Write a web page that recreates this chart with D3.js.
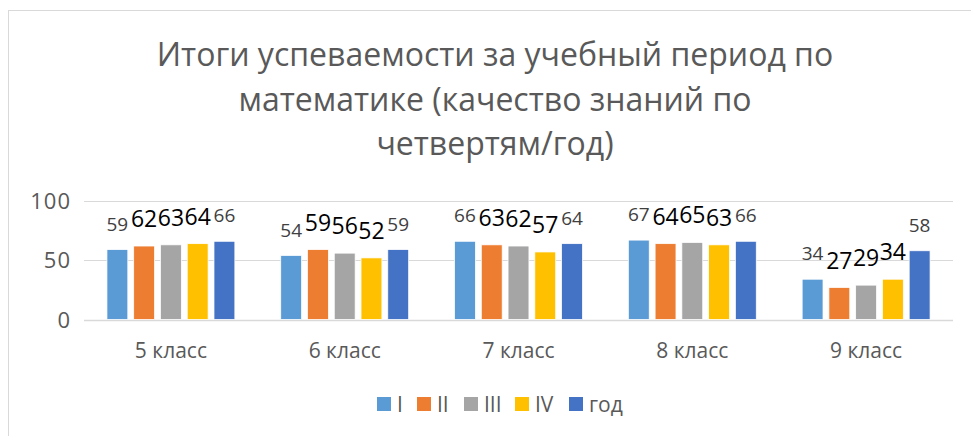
<!DOCTYPE html>
<html><head><meta charset="utf-8">
<script src="https://cdn.jsdelivr.net/npm/d3@7"></script>
<style>
html,body{margin:0;padding:0;background:#fff;}
svg{display:block;font-family:"Open Sans",sans-serif;}
</style></head>
<body>
<svg id="c" width="971" height="436"></svg>
<script>
const titleLines = ["Итоги успеваемости за учебный период по", "математике (качество знаний по", "четвертям/год)"];
const categories = ["5 класс", "6 класс", "7 класс", "8 класс", "9 класс"];
const seriesNames = ["I", "II", "III", "IV", "год"];
const seriesColors = ["#5B9BD5", "#ED7D31", "#A5A5A5", "#FFC000", "#4472C4"];
const valuesI   = [59, 54, 66, 67, 34];
const valuesII  = [62, 59, 63, 64, 27];
const valuesIII = [63, 56, 62, 65, 29];
const valuesIV  = [64, 52, 57, 63, 34];
const valuesYear = [66, 59, 64, 66, 58];
const yTicks = [0, 50, 100];

const seriesValues = [valuesI, valuesII, valuesIII, valuesIV, valuesYear];
const svg = d3.select("#c");

// chart border
svg.append("rect").attr("x", 8.5).attr("y", 10.5).attr("width", 1000).attr("height", 1000)
  .attr("fill", "none").attr("stroke", "#D9D9D9").attr("stroke-width", 1);

// title
svg.append("g").selectAll("text").data(titleLines).join("text")
  .attr("x", 495).attr("y", (d, i) => 66 + i * 44.5)
  .attr("text-anchor", "middle").attr("font-size", 32).attr("fill", "#595959")
  .text(d => d);

const x0 = d3.scaleBand().domain(categories).range([84, 953]);
const bw = x0.bandwidth();
const gap = bw * 0.132;
const x1 = d3.scaleBand().domain(seriesNames).range([gap, bw - gap]).paddingInner(0.22);
const y = d3.scaleLinear().domain([0, 100]).range([319.5, 201]);

// gridlines
svg.append("g").selectAll("line").data(yTicks).join("line")
  .attr("x1", 84).attr("x2", 953)
  .attr("y1", d => Math.round(y(d)) + 0.5).attr("y2", d => Math.round(y(d)) + 0.5)
  .attr("stroke", "#D9D9D9").attr("stroke-width", d => d === 0 ? 1.5 : 1.2);

// y axis labels
const yAxis = d3.axisLeft(y).tickValues(yTicks).tickSize(0).tickPadding(0);
const ya = svg.append("g").attr("transform", "translate(71,0)").call(yAxis);
ya.select(".domain").remove();
ya.selectAll("text").attr("font-size", 22).attr("letter-spacing", 1).attr("fill", "#595959")
  .attr("font-family", "Open Sans, sans-serif").attr("dy", "0.35em");

// x axis labels
const xAxis = d3.axisBottom(x0).tickSize(0).tickPadding(0);
const xa = svg.append("g").attr("transform", "translate(0,358)").call(xAxis);
xa.select(".domain").remove();
xa.selectAll("text").attr("font-size", 21).attr("fill", "#595959")
  .attr("font-family", "Open Sans, sans-serif").attr("dy", 0).attr("y", 0);

// bars
const rows = [];
categories.forEach((c, ci) => seriesNames.forEach((s, si) => rows.push({c, s, si, v: seriesValues[si][ci]})));
const g = svg.append("g");
g.selectAll("rect").data(rows).join("rect")
  .attr("x", d => x0(d.c) + x1(d.s)).attr("width", x1.bandwidth())
  .attr("y", d => y(d.v)).attr("height", d => y(0) - y(d.v))
  .attr("fill", d => seriesColors[d.si]).attr("stroke", "#fff").attr("stroke-width", 0.75);

// data labels
g.selectAll("text").data(rows).join("text")
  .attr("x", d => x0(d.c) + x1(d.s) + x1.bandwidth() / 2)
  .attr("y", d => y(d.v) - 19)
  .attr("text-anchor", "middle")
  .attr("font-size", d => (d.si === 0 || d.si === 4) ? 19 : 23)
  .attr("fill", d => (d.si === 0 || d.si === 4) ? "#404040" : "#000")
  .text(d => d.v);

// legend
const legendX = [377, 417, 464, 515, 569];
const lg = svg.append("g").selectAll("g").data(seriesNames).join("g")
  .attr("transform", (d, i) => `translate(${legendX[i]},397)`);
lg.append("rect").attr("width", 14).attr("height", 14).attr("fill", (d, i) => seriesColors[i]);
lg.append("text").attr("x", 20).attr("y", 15).attr("font-size", 21).attr("fill", "#595959").text(d => d);
</script>
</body></html>
